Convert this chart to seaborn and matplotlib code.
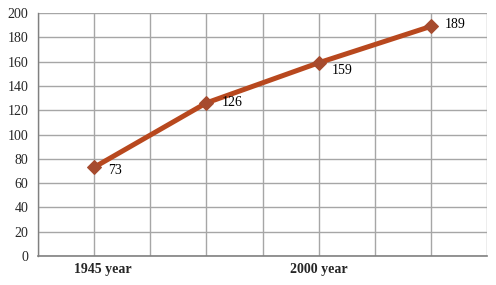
import matplotlib
matplotlib.use("Agg")
import matplotlib.pyplot as plt
import seaborn as sns
import pandas as pd

categories = ["1945 year", "", "2000 year", ""]
values = [73, 126, 159, 189]
x_positions = [1, 3, 5, 7]
yticks = [0, 20, 40, 60, 80, 100, 120, 140, 160, 180, 200]

# label placement offsets (pixels) - styling only
label_dx = [14, 15, 13, 14]
label_dy = [-3, 0, -8, 2]
cat_label_shift = [0.15, 0, 0, 0]

df = pd.DataFrame({"x": x_positions, "y": values, "cat": categories})

sns.set_style("white")
plt.rcParams["font.family"] = ["Liberation Serif", "DejaVu Serif"]

fig = plt.figure(figsize=(4.96, 2.85), dpi=100)
ax = fig.add_axes([38/496, 29/285, (487-38)/496, (256-13)/285])

sns.lineplot(data=df, x="x", y="y", ax=ax, color="#B8481E", linewidth=3.6,
             marker="D", markersize=7, markerfacecolor="#A64B2E",
             markeredgecolor="#A64B2E", zorder=3)

for xv, yv, dx, dy in zip(x_positions, values, label_dx, label_dy):
    ax.annotate(str(yv), (xv, yv), xytext=(dx, dy), textcoords="offset pixels",
                fontsize=10, ha="left", va="center", color="black")

ax.set_xlim(0, 8)
ax.set_ylim(0, 200)
ax.set_yticks(yticks)
ax.set_yticklabels([str(t) for t in yticks], fontsize=10)
ax.set_xticks(range(0, 9))
ax.set_xticklabels([""] * 9)
ax.grid(True, color="#A6A6A6", linewidth=1)
ax.tick_params(axis="x", length=0)
ax.tick_params(axis="y", length=4, color="#808080", width=1, pad=3)
for xv, lab, sh in zip(x_positions, categories, cat_label_shift):
    if lab:
        ax.text(xv + sh, -6, lab, transform=ax.transData, ha="center", va="top",
                fontsize=10, fontweight="bold")
for s in ["top", "right"]:
    ax.spines[s].set_visible(False)
ax.spines["left"].set_color("#808080")
ax.spines["left"].set_linewidth(1)
ax.spines["bottom"].set_color("#808080")
ax.spines["bottom"].set_linewidth(1.2)
ax.set_xlabel("")
ax.set_ylabel("")

fig.savefig("out.png", dpi=100)
